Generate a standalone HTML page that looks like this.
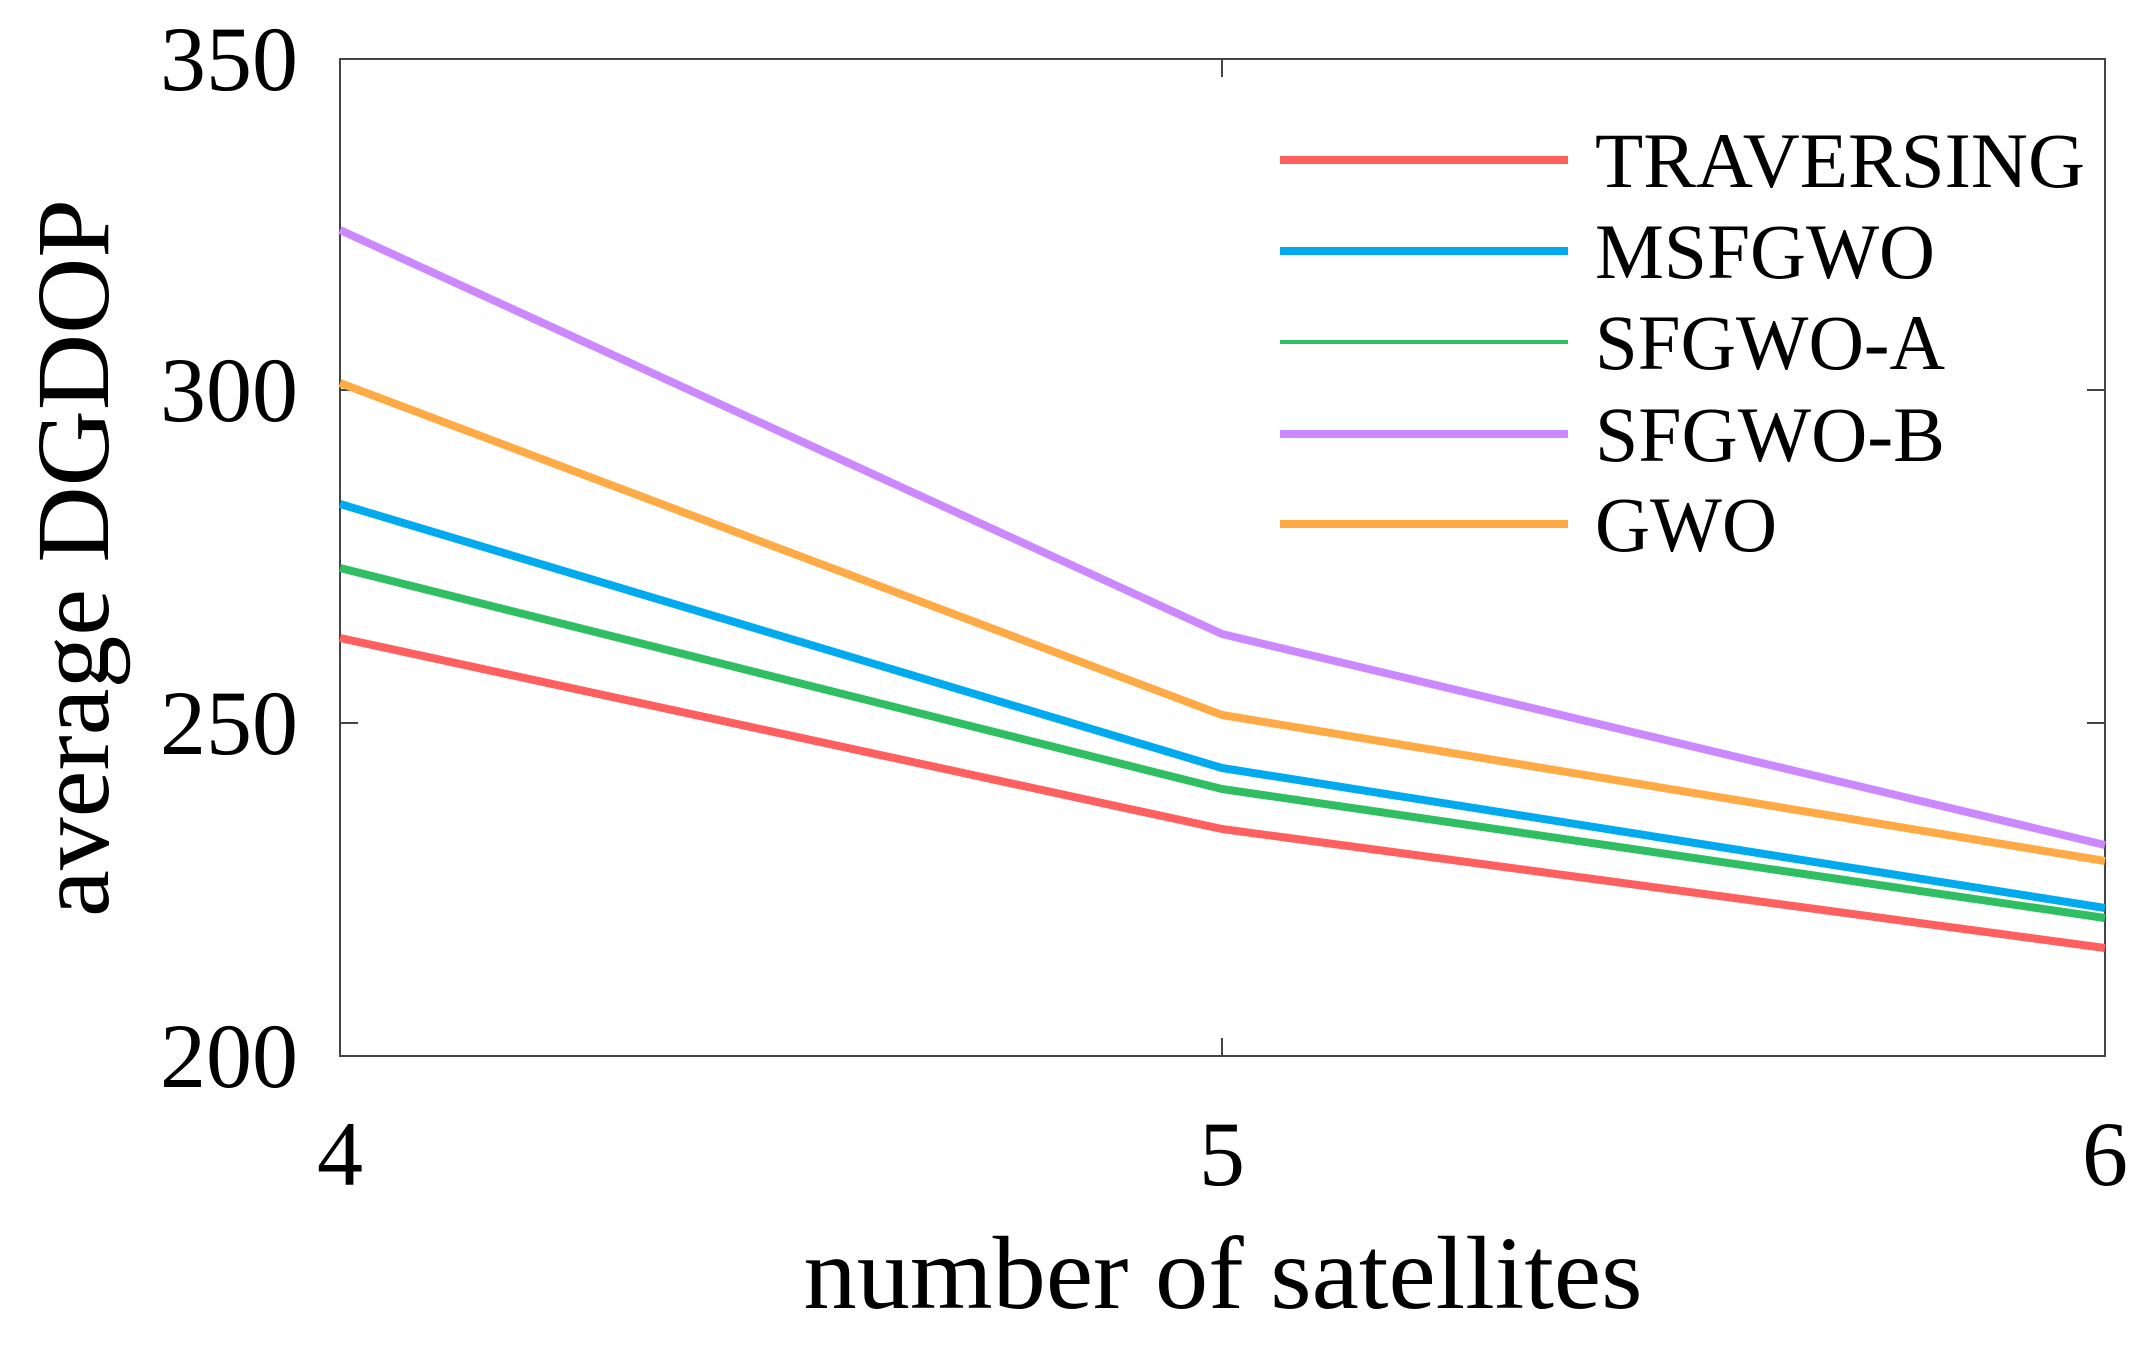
<!DOCTYPE html>
<html><head><style>html,body{margin:0;padding:0;background:#fff}</style></head>
<body>
<svg width="2147" height="1349" viewBox="0 0 2147 1349" xmlns="http://www.w3.org/2000/svg" font-family="Liberation Serif, serif" fill="#000">
<rect x="340" y="59" width="1765" height="997" fill="none" stroke="#444" stroke-width="2"/>
<g stroke="#444" stroke-width="2">
<line x1="340" y1="390" x2="358" y2="390"/><line x1="340" y1="723" x2="358" y2="723"/>
<line x1="2105" y1="390" x2="2087" y2="390"/><line x1="2105" y1="723" x2="2087" y2="723"/>
<line x1="1222" y1="1056" x2="1222" y2="1038"/><line x1="1222" y1="59" x2="1222" y2="77"/>
</g>
<g font-size="92" text-anchor="end">
<text x="298" y="90">350</text><text x="298" y="421">300</text><text x="298" y="754">250</text><text x="298" y="1087">200</text>
</g>
<g font-size="92" text-anchor="middle">
<text x="340" y="1185">4</text><text x="1222" y="1185">5</text><text x="2105" y="1185">6</text>
</g>
<text x="1223" y="1308" font-size="104" text-anchor="middle" textLength="839" lengthAdjust="spacingAndGlyphs">number of satellites</text>
<text transform="translate(108,558) rotate(-90)" font-size="104" text-anchor="middle" textLength="718" lengthAdjust="spacingAndGlyphs">average DGDOP</text>
<g fill="none" stroke-width="8" stroke-linejoin="round">
<polyline stroke="#ff5f5f" points="340,638 1222,829 2105,948"/>
<polyline stroke="#2fbe62" points="340,568 1222,789 2105,918"/>
<polyline stroke="#00aaee" points="340,504 1222,768 2105,908"/>
<polyline stroke="#ffaa44" points="340,383 1222,715 2105,861"/>
<polyline stroke="#cc88ff" points="340,230 1222,634 2105,845"/>
<line stroke="#ff5f5f" x1="1280" y1="160" x2="1568" y2="160"/>
<line stroke="#00aaee" x1="1280" y1="251" x2="1568" y2="251"/>
<line stroke="#2fbe62" x1="1280" y1="342" x2="1568" y2="342" stroke-width="4"/>
<line stroke="#cc88ff" x1="1280" y1="434" x2="1568" y2="434"/>
<line stroke="#ffaa44" x1="1280" y1="524" x2="1568" y2="524"/>
</g>
<g font-size="78">
<text x="1595" y="187" textLength="490" lengthAdjust="spacingAndGlyphs">TRAVERSING</text>
<text x="1595" y="278" textLength="340" lengthAdjust="spacingAndGlyphs">MSFGWO</text>
<text x="1595" y="369" textLength="350" lengthAdjust="spacingAndGlyphs">SFGWO-A</text>
<text x="1595" y="461" textLength="350" lengthAdjust="spacingAndGlyphs">SFGWO-B</text>
<text x="1595" y="551" textLength="182" lengthAdjust="spacingAndGlyphs">GWO</text>
</g>
</svg>
</body></html>
